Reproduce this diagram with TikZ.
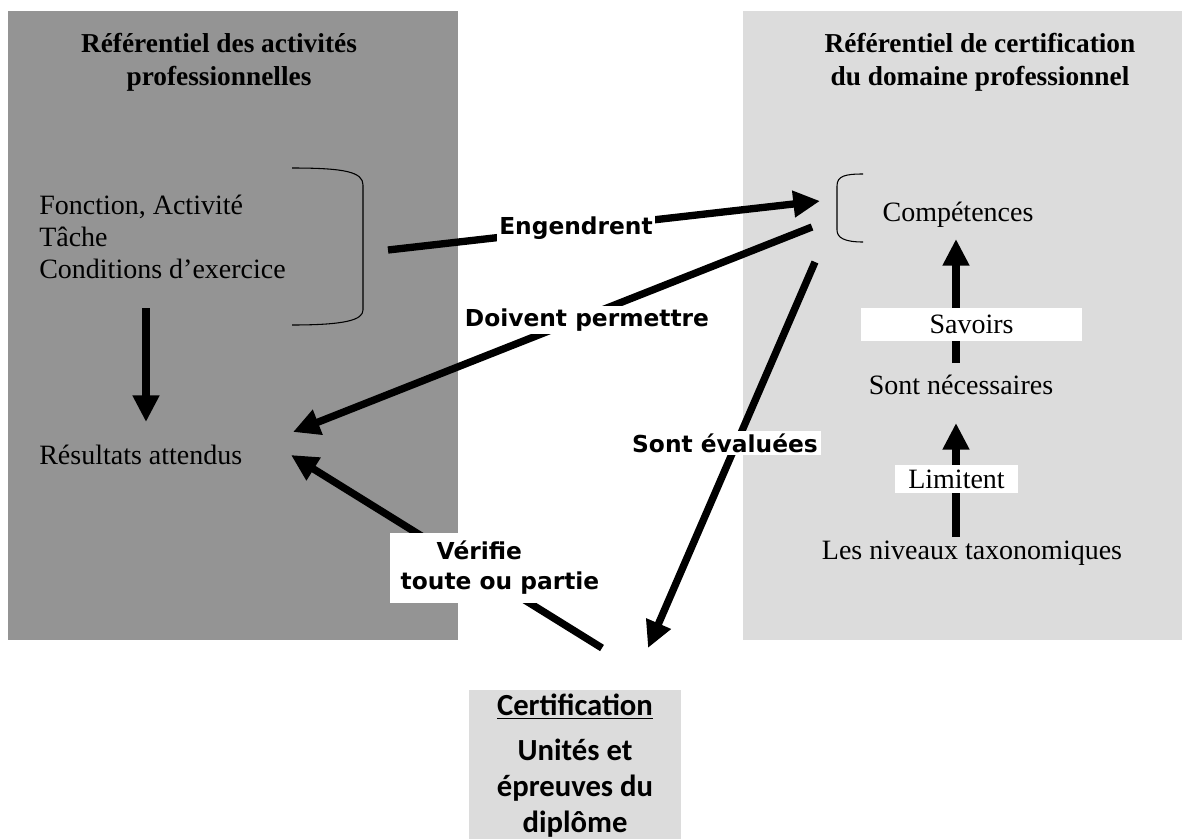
\documentclass[tikz,border=0pt]{standalone}
\usepackage{fontspec}
\setmainfont{Liberation Serif}
\newfontfamily\labelfont{DejaVu Sans}
\newfontfamily\certfont{Carlito}
\usetikzlibrary{arrows.meta}
\definecolor{darkpanel}{HTML}{949494}
\definecolor{lightpanel}{HTML}{DCDCDC}

\begin{document}
\begin{tikzpicture}[x=0.75pt, y=-0.75pt,
    title/.style={font=\fontsize{20.5}{24.75}\selectfont\bfseries, align=center, inner sep=0pt},
    item/.style={font=\fontsize{21}{24}\selectfont, anchor=west, align=left, inner sep=0pt},
    plain/.style={font=\fontsize{21}{24}\selectfont, inner sep=0pt},
    lbl/.style={font=\labelfont\bfseries\fontsize{17.5}{22.5}\selectfont, fill=white, inner sep=2pt},
    whitebox/.style={font=\fontsize{21}{24}\selectfont, fill=white, inner sep=0pt},
    bigarrow/.style={line width=5.5pt, -{Triangle[length=20pt, width=19pt]}},
    brace/.style={line width=0.8pt}]
    \useasboundingbox (0,0) rectangle (1182,839);

    % the two panels
    \fill[darkpanel] (8,11) rectangle (458,640);
    \fill[lightpanel] (743,11) rectangle (1182,640);

    \node[title] (actTitle) at (219,62) {Référentiel des activités\\professionnelles};
    \node[title] (certTitle) at (980,62) {Référentiel de certification\\du domaine professionnel};

    \node[item] (tasks) at (39,237) {Fonction, Activité\\Tâche\\Conditions d’exercice};
    \node[item] (results) at (39,455) {Résultats attendus};

    \node[plain] (compet) at (958,215) {Compétences};
    \node[plain] (needed) at (961,385) {Sont nécessaires};
    \node[plain] (levels) at (972,553) {Les niveaux taxonomiques};

    % brackets
    \draw[brace] (292,168) .. controls (345,168) and (363,172) .. (363,185) -- (363,310)
        .. controls (363,320) and (345,325) .. (292,325);
    \draw[brace] (863,174) .. controls (845,174) and (837,176) .. (837,186) -- (837,230)
        .. controls (837,238) and (845,242) .. (863,242);

    \coordinate (engS) at (388,250);
    \coordinate (engT) at (820,201);
    \coordinate (dvS) at (812,227);
    \coordinate (dvT) at (293,432);
    \coordinate (evS) at (815,262);
    \coordinate (evT) at (648,648);
    \coordinate (vfS) at (602,648);
    \coordinate (vfT) at (291,455);
    \coordinate (resA) at (146,308);
    \coordinate (resB) at (146,422);
    \coordinate (savA) at (956,363);
    \coordinate (savB) at (956,239);
    \coordinate (limA) at (956,537);
    \coordinate (limB) at (956,423);

    \draw[bigarrow] (resA) -- (resB);
    \draw[bigarrow] (engS) -- (engT);
    \draw[bigarrow] (dvS) -- (dvT);
    \draw[bigarrow] (evS) -- (evT);
    \draw[bigarrow] (vfS) -- (vfT);
    \draw[bigarrow] (savA) -- (savB);
    \draw[bigarrow] (limA) -- (limB);

    \node[lbl] (engLbl) at (576,228) {Engendrent};
    \node[lbl] (dvLbl) at (587,320) {Doivent permettre};
    \node[lbl] (evLbl) at (725,443) {Sont évaluées};
    \node[lbl, align=left, minimum height=52pt, inner xsep=8pt] (vfLbl) at (500,568) {\hspace*{27pt}Vérifie\\toute ou partie};

    \node[whitebox, minimum width=165.75pt, minimum height=24.75pt] (savoirs) at (971.5,324.5) {Savoirs};
    \node[whitebox, minimum width=92pt, minimum height=21pt] (limit) at (956.5,479) {Limitent};

    % certification box
    \node[fill=lightpanel, minimum width=159pt, minimum height=150pt, anchor=north, inner sep=0pt] (certBox) at (575,690) {};
    \node[font=\certfont\bfseries\fontsize{23}{27.2}\selectfont, align=center, anchor=north, inner sep=0pt] (certif) at (575,694)
        {\underline{Certification}\\[6pt]Unités et\\épreuves du\\diplôme};
\end{tikzpicture}
\end{document}
